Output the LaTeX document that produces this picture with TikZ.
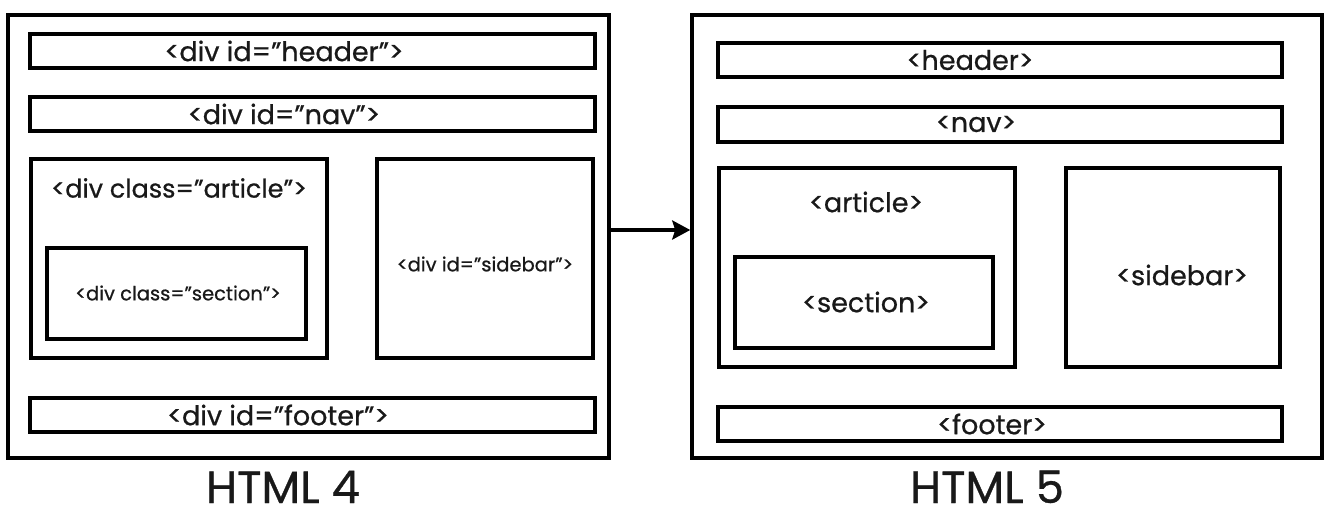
\documentclass[tikz,border=0pt]{standalone}
\usepackage{fontspec}
\setmainfont{Poppins}[FakeBold=0.7]
\usetikzlibrary{arrows.meta}
\begin{document}
\begin{tikzpicture}[x=1pt,y=-1pt,
  bx/.style={draw=black,line width=3.3pt,inner sep=0pt},
  big/.style={font=\fontsize{27}{30}\selectfont,text=black!90,inner sep=0pt},
  small/.style={font=\fontsize{19.5}{22}\selectfont,text=black!90,inner sep=0pt},
  ttl/.style={font=\fontsize{45}{48}\selectfont,text=black!90,inner sep=0pt,anchor=base},
  conn/.style={line width=4pt,-{Stealth[length=18pt,width=19pt,inset=3pt]}}]
\useasboundingbox[fill=white] (0,0) rectangle (1325,511);
% ---- HTML 4
\node[bx,line width=3.5pt,minimum width=601pt,minimum height=443pt] (L) at (308.5,236.5) {};
\node[bx,minimum width=565pt,minimum height=34pt] (hdr4) at (312.5,51) {};
\node[big] (hdr4t) at (284,51) {<div id="header">};
\node[bx,minimum width=565pt,minimum height=34pt] (nav4) at (312.5,114) {};
\node[big] (nav4t) at (284,114) {<div id="nav">};
\node[bx,minimum width=296pt,minimum height=199pt] (art4) at (179,258.5) {};
\node[big,font=\fontsize{25.5}{28}\selectfont] (art4t) at (179,188) {<div class="article">};
\node[bx,minimum width=259pt,minimum height=91pt] (sec4) at (176.5,293.5) {};
\node[small] (sec4t) at (178,293) {<div class="section">};
\node[bx,minimum width=216pt,minimum height=199pt] (side4) at (485,258.5) {};
\node[small] (side4t) at (485,264) {<div id="sidebar">};
\node[bx,minimum width=565pt,minimum height=34pt] (ftr4) at (312.5,415) {};
\node[big] (ftr4t) at (278,415) {<div id="footer">};
\node[ttl] (t4) at (283,503) {HTML 4};
% ---- HTML 5
\node[bx,line width=3.5pt,minimum width=630pt,minimum height=443pt] (R) at (1007,236.5) {};
\node[bx,minimum width=564pt,minimum height=34pt] (hdr5) at (1000,60) {};
\node[big] (hdr5t) at (970,60) {<header>};
\node[bx,minimum width=564pt,minimum height=35pt] (nav5) at (1000,124.5) {};
\node[big] (nav5t) at (976,124) {<nav>};
\node[bx,minimum width=296pt,minimum height=199pt] (art5) at (867,267.5) {};
\node[big] (art5t) at (866,202) {<article>};
\node[bx,minimum width=258pt,minimum height=91pt] (sec5) at (864,302.5) {};
\node[big] (sec5t) at (866,302) {<section>};
\node[bx,minimum width=214pt,minimum height=199pt] (side5) at (1173,267.5) {};
\node[big] (side5t) at (1182,275) {<sidebar>};
\node[bx,minimum width=564pt,minimum height=34pt] (ftr5) at (1000,424) {};
\node[big] (ftr5t) at (992,424) {<footer>};
\node[ttl] (t5) at (987,503) {HTML 5};
% ---- arrow
\draw[conn] ([yshift=6.5pt]L.east) -- ([yshift=6.5pt]R.west);
\end{tikzpicture}
\end{document}
